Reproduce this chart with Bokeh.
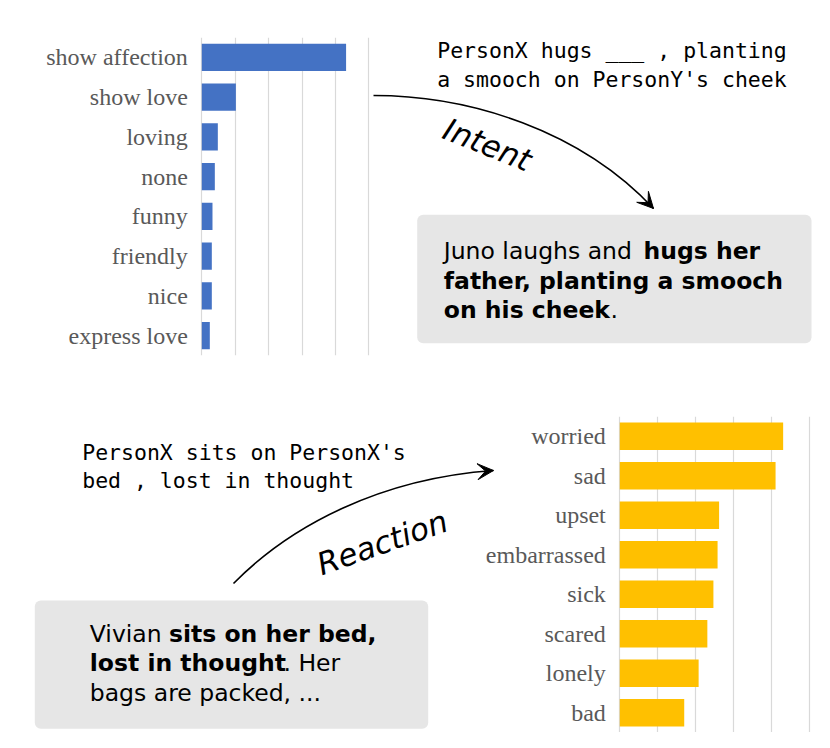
from bokeh.plotting import figure
from bokeh.models import Range1d, FactorRange, FixedTicker, Grid, BoxAnnotation, Arrow, VeeHead, ColumnDataSource
from bokeh.layouts import column
from bokeh.core.properties import value
from bokeh.embed import file_html
from bokeh.resources import INLINE

# ---------------- data ----------------
intent_labels = ["show affection", "show love", "loving", "none", "funny", "friendly", "nice", "express love"]
intent_values = [4.32, 1.02, 0.48, 0.39, 0.32, 0.30, 0.30, 0.24]

reaction_labels = ["worried", "sad", "upset", "embarrassed", "sick", "scared", "lonely", "bad"]
reaction_values = [4.31, 4.11, 2.62, 2.58, 2.47, 2.31, 2.08, 1.70]

grid_ticks = [0, 1, 2, 3, 4, 5]

intent_event = ["PersonX hugs ___ , planting", "a smooch on PersonY's cheek"]
reaction_event = ["PersonX sits on PersonX's", "bed , lost in thought"]

BLUE = "#4472C4"
GOLD = "#FFC000"
GRID = "#D9D9D9"
LABEL = "#595959"
BOXFILL = "#E6E6E6"

W = 814
MONO = "DejaVu Sans Mono"
SANS = "DejaVu Sans"
BODY = "23.5px"
MONO_SIZE = "21.5px"
TEXT_DY = -7  # baseline correction


def make_panel(labels, values, color, page_top, height, border_top, border_bottom, zero_px, unit_px):
    frame_h = height - border_top - border_bottom
    x_start = (0 - zero_px) / unit_px
    x_end = (W - zero_px) / unit_px
    p = figure(width=W, height=height,
               x_range=Range1d(x_start, x_end),
               y_range=FactorRange(factors=labels[::-1]),
               x_axis_location=None, y_axis_location="left",
               toolbar_location=None, output_backend="svg",
               min_border_left=0, min_border_right=0,
               min_border_top=border_top, min_border_bottom=border_bottom)
    p.outline_line_color = None
    p.background_fill_color = "white"
    p.border_fill_color = "white"
    p.grid.visible = False
    p.add_layout(Grid(dimension=0, ticker=FixedTicker(ticks=grid_ticks),
                      grid_line_color=GRID, grid_line_width=1.2), "center")

    src = ColumnDataSource(dict(cat=labels, val=values))
    p.hbar(y="cat", right="val", left=0, height=0.69, source=src,
           fill_color=color, line_color=None)

    ax = p.yaxis[0]
    ax.fixed_location = 0
    ax.axis_line_color = None
    ax.major_tick_line_color = None
    ax.minor_tick_line_color = None
    ax.major_tick_out = 0
    ax.major_tick_in = 0
    ax.major_label_standoff = 14
    ax.major_label_text_font = "Liberation Serif"
    ax.major_label_text_font_size = "24px"
    ax.major_label_text_color = LABEL

    frame_bottom_page = page_top + border_top + frame_h
    unit_y = frame_h / len(labels)

    def conv(px, py):
        return (px - zero_px) / unit_px, (frame_bottom_page - py) / unit_y

    return p, conv


def txt(p, conv, px, py, s, font, size, style="normal", align="left",
        baseline="alphabetic", angle=0.0, color="black", dy=TEXT_DY):
    x, y = conv(px, py + dy)
    p.text(x=[x], y=[y], text=[s], text_font=value(font), text_font_size=value(size),
           text_font_style=value(style), text_align=value(align),
           text_baseline=value(baseline), angle=angle, text_color=color)


def box(p, conv, l, t, r, b):
    x0, y0 = conv(l, b)
    x1, y1 = conv(r, t)
    p.add_layout(BoxAnnotation(left=x0, right=x1, bottom=y0, top=y1,
                               fill_color=BOXFILL, fill_alpha=1.0, line_color=None,
                               border_radius=6, level="underlay"))


def curve(p, conv, P0, P1, P2, P3):
    a, b, c, d = conv(*P0), conv(*P1), conv(*P2), conv(*P3)
    p.bezier(x0=[a[0]], y0=[a[1]], cx0=[b[0]], cy0=[b[1]], cx1=[c[0]], cy1=[c[1]],
             x1=[d[0]], y1=[d[1]], line_color="black", line_width=1.6)
    p.add_layout(Arrow(end=VeeHead(size=16, fill_color="black", line_color="black"),
                       x_start=c[0], y_start=c[1], x_end=d[0], y_end=d[1],
                       line_alpha=0.0))


# ---------------- top panel (Intent) ----------------
H1 = 385
p1, c1 = make_panel(intent_labels, intent_values, BLUE, page_top=0, height=H1,
                    border_top=37, border_bottom=H1 - 355, zero_px=201.3, unit_px=33.4)

txt(p1, c1, 436.7, 57.3, intent_event[0], MONO, MONO_SIZE)
txt(p1, c1, 436.7, 86.0, intent_event[1], MONO, MONO_SIZE)

curve(p1, c1, (373, 95), (470, 95), (580, 130), (653, 208))
txt(p1, c1, 487.0, 144.0, "Intent", SANS, "31px", style="italic", align="center",
    baseline="middle", angle=-0.38, dy=0)

box(p1, c1, 416.7, 214.3, 811.0, 342.7)
txt(p1, c1, 443.3, 257.5, "Juno laughs and ", SANS, BODY)
txt(p1, c1, 643.0, 257.5, "hugs her", SANS, BODY, style="bold")
txt(p1, c1, 443.3, 287.7, "father, planting a smooch", SANS, BODY, style="bold")
txt(p1, c1, 443.3, 316.0, "on his cheek", SANS, BODY, style="bold")
txt(p1, c1, 610.0, 316.0, ".", SANS, BODY)

# ---------------- bottom panel (Reaction) ----------------
H2 = 732 - H1
p2, c2 = make_panel(reaction_labels, reaction_values, GOLD, page_top=H1, height=H2,
                    border_top=416 - H1, border_bottom=0, zero_px=619.3, unit_px=37.9)

txt(p2, c2, 81.7, 459.3, reaction_event[0], MONO, MONO_SIZE)
txt(p2, c2, 81.7, 487.3, reaction_event[1], MONO, MONO_SIZE)

curve(p2, c2, (233, 583), (290, 525), (380, 478), (493, 470))
txt(p2, c2, 381.7, 542.0, "Reaction", SANS, "31px", style="italic", align="center",
    baseline="middle", angle=0.34, dy=0)

box(p2, c2, 34.3, 600.0, 427.7, 728.3)
txt(p2, c2, 89.3, 640.7, "Vivian ", SANS, BODY)
txt(p2, c2, 168.5, 640.7, "sits on her bed,", SANS, BODY, style="bold")
txt(p2, c2, 89.3, 669.3, "lost in thought", SANS, BODY, style="bold")
txt(p2, c2, 283.0, 669.3, ". Her", SANS, BODY)
txt(p2, c2, 89.3, 699.0, "bags are packed, ...", SANS, BODY)

layout = column(p1, p2, spacing=0)
open("out.html", "w").write(file_html(layout, INLINE))
